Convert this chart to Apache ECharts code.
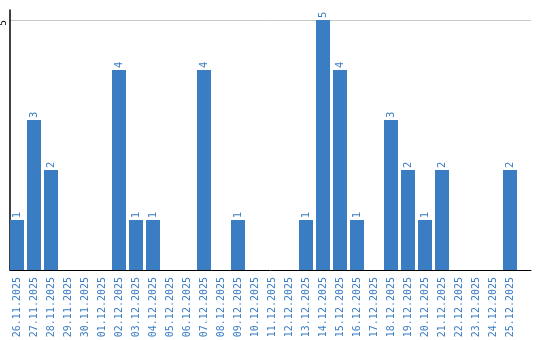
<!DOCTYPE html>
<html>
<head>
<meta charset="utf-8">
<script src="https://cdn.jsdelivr.net/npm/echarts@6/dist/echarts.min.js"></script>
<style>html,body{margin:0;padding:0;background:#fff}#c{width:540px;height:340px}</style>
</head>
<body>
<div id="c"></div>
<script>
var categories = ["26.11.2025","27.11.2025","28.11.2025","29.11.2025","30.11.2025","01.12.2025","02.12.2025","03.12.2025","04.12.2025","05.12.2025","06.12.2025","07.12.2025","08.12.2025","09.12.2025","10.12.2025","11.12.2025","12.12.2025","13.12.2025","14.12.2025","15.12.2025","16.12.2025","17.12.2025","18.12.2025","19.12.2025","20.12.2025","21.12.2025","22.12.2025","23.12.2025","24.12.2025","25.12.2025"];
var values = [1,3,2,0,0,0,4,1,1,0,0,4,0,1,0,0,0,1,5,4,1,0,3,2,1,2,0,0,0,2];
var yTicks = [5];

var blue = '#3b7dc2';
var chart = echarts.init(document.getElementById('c'), null, {renderer:'canvas'});
chart.setOption({
  animation: false,
  grid: [
    {left: 8.5, width: 510, top: 10, bottom: 70, containLabel:false, outerBoundsMode:'none'},
    {left: 10, right: 9, top: 10, bottom: 70, containLabel:false, outerBoundsMode:'none'}
  ],
  xAxis: [
    {type:'category', gridIndex:0, data: categories,
     axisLine:{show:false}, axisTick:{show:false},
     axisLabel:{rotate:90, interval:0, margin:7, color:blue, fontSize:10, fontFamily:'DejaVu Sans Mono'}},
    {type:'value', gridIndex:1, min:0, max:1,
     axisLine:{show:true, onZero:false, lineStyle:{color:'#000', width:1}}, axisTick:{show:false},
     axisLabel:{show:false}, splitLine:{show:false}}
  ],
  yAxis: [
    {type:'value', gridIndex:0, min:0, max:5.2, show:false},
    {type:'value', gridIndex:1, min:0, max:5.2, interval:5,
     axisLine:{show:true, lineStyle:{color:'#000', width:1.5}}, axisTick:{show:false},
     axisLabel:{rotate:90, margin:1.5, color:'#000', fontSize:9, fontFamily:'DejaVu Sans',
       align:'right', verticalAlign:'bottom',
       formatter:function(v){return yTicks.indexOf(v)>=0 ? String(v) : '';}},
     splitLine:{show:true, showMinLine:false, showMaxLine:false, lineStyle:{color:'#c8c8c8', width:1}}}
  ],
  series: [{
    type:'bar', xAxisIndex:0, yAxisIndex:0, data: values, barWidth:14,
    itemStyle:{color:blue},
    label:{show:true, position:'top', rotate:90, align:'left', verticalAlign:'middle', distance:2,
      color:blue, fontSize:10, fontFamily:'DejaVu Sans',
      formatter:function(p){return p.value ? String(p.value) : '';}}
  }]
});
</script>
</body>
</html>
